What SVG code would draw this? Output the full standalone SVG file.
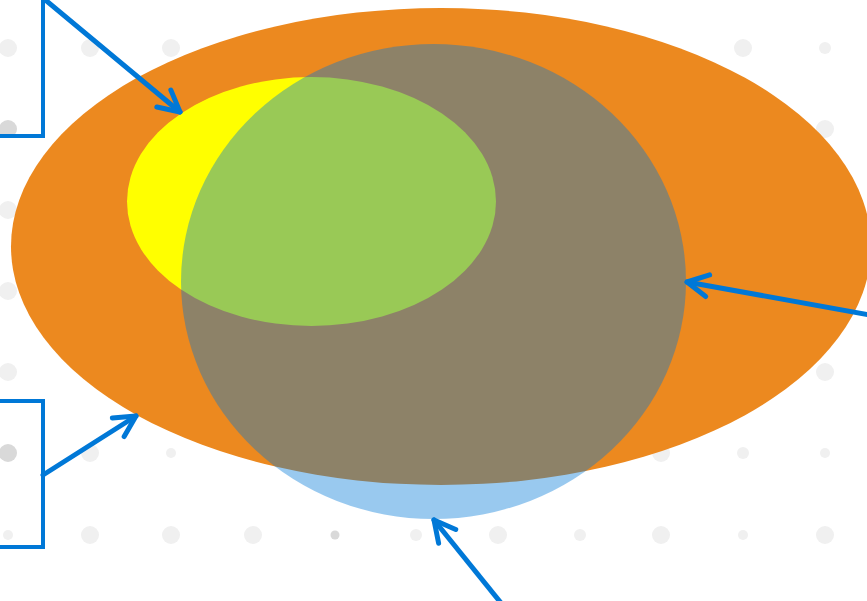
<svg xmlns="http://www.w3.org/2000/svg" width="867" height="601" viewBox="0 0 867 601">
  <style>
    .dl { fill: #f0f0f0; }
    .dd { fill: #d9d9d9; }
    .conn { fill: none; stroke: #0078d7; stroke-width: 5; stroke-linecap: round; stroke-linejoin: round; }
    .brk { fill: none; stroke: #0078d7; stroke-width: 4; stroke-linejoin: miter; }
  </style>
  <defs>
    <marker id="arr" markerUnits="userSpaceOnUse" markerWidth="40" markerHeight="40" viewBox="-30 -20 40 40" refX="0" refY="0" orient="auto" overflow="visible">
      <path d="M-21,-11 L0,0 L-21,11" fill="none" stroke="#0078d7" stroke-width="5" stroke-linecap="round" stroke-linejoin="round"/>
    </marker>
  </defs>
  <rect width="867" height="601" fill="#ffffff"/>
  <g id="grid">
    <circle class="dl" cx="8" cy="48" r="9"/>
    <circle class="dl" cx="90" cy="48" r="9"/>
    <circle class="dl" cx="171" cy="48" r="9"/>
    <circle class="dl" cx="743" cy="48" r="9"/>
    <circle class="dl" cx="825" cy="48" r="6"/>
    <circle class="dd" cx="8" cy="129" r="9"/>
    <circle class="dl" cx="825" cy="129" r="9"/>
    <circle class="dl" cx="8" cy="210" r="9"/>
    <circle class="dl" cx="8" cy="291" r="9"/>
    <circle class="dl" cx="8" cy="372" r="9"/>
    <circle class="dl" cx="825" cy="372" r="9"/>
    <circle class="dd" cx="8" cy="453" r="9"/>
    <circle class="dl" cx="90" cy="453" r="9"/>
    <circle class="dl" cx="171" cy="453" r="5"/>
    <circle class="dl" cx="661" cy="453" r="9"/>
    <circle class="dl" cx="743" cy="453" r="6"/>
    <circle class="dl" cx="825" cy="453" r="5"/>
    <circle class="dl" cx="8" cy="535" r="5"/>
    <circle class="dl" cx="90" cy="535" r="9"/>
    <circle class="dl" cx="171" cy="535" r="9"/>
    <circle class="dl" cx="253" cy="535" r="9"/>
    <circle class="dd" cx="335" cy="535" r="4.5"/>
    <circle class="dl" cx="416" cy="535" r="6"/>
    <circle class="dl" cx="498" cy="535" r="9"/>
    <circle class="dl" cx="580" cy="535" r="6"/>
    <circle class="dl" cx="661" cy="535" r="9"/>
    <circle class="dl" cx="743" cy="535" r="5"/>
    <circle class="dl" cx="825" cy="535" r="9"/>
  </g>
  <g id="outer-set">
    <ellipse cx="441" cy="246.5" rx="430" ry="238.5" fill="#ec891f"/>
  </g>
  <g id="yellow-set">
    <ellipse cx="311.5" cy="201.5" rx="184.5" ry="124.5" fill="#ffff00"/>
  </g>
  <g id="blue-set">
    <ellipse cx="433.5" cy="281.5" rx="252.5" ry="237.5" fill="#0078d7" fill-opacity="0.4"/>
  </g>
  <g id="connectors">
    <polyline class="brk" points="0,136 43,136 43,-2"/>
    <polyline class="brk" points="0,401 43,401 43,547 0,547"/>
    <line class="conn" x1="43" y1="-2" x2="180" y2="112" marker-end="url(#arr)"/>
    <line class="conn" x1="43" y1="475" x2="136" y2="416" marker-end="url(#arr)"/>
    <line class="conn" x1="501" y1="603" x2="434" y2="520" marker-end="url(#arr)"/>
    <line class="conn" x1="870" y1="315" x2="687" y2="282" marker-end="url(#arr)"/>
  </g>
</svg>
